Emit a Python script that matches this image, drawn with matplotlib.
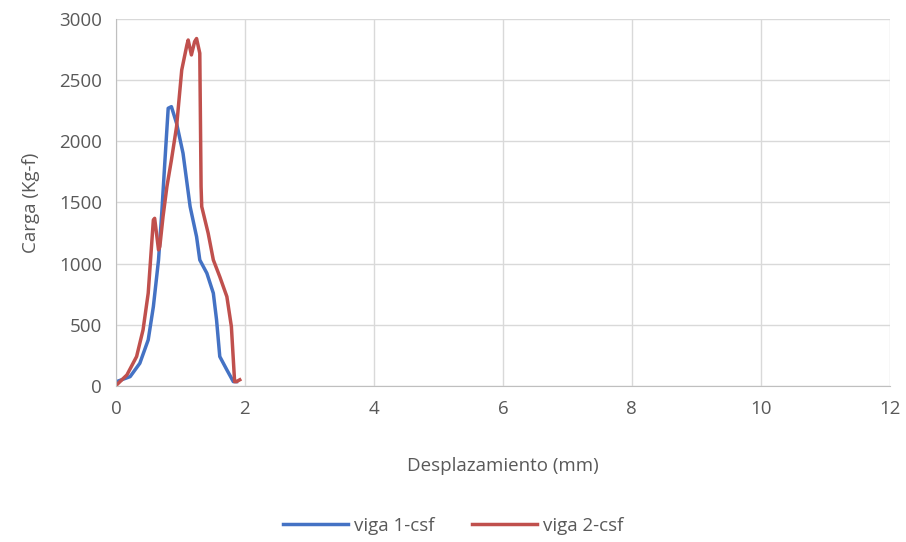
import matplotlib
matplotlib.use("Agg")
import matplotlib.pyplot as plt

plt.rcParams['font.family'] = ['Open Sans', 'DejaVu Sans']

x1 = [0.01, 0.22, 0.37, 0.50, 0.58, 0.66, 0.71, 0.76, 0.81, 0.86, 0.94, 1.04, 1.15,
      1.25, 1.30, 1.41, 1.51, 1.56, 1.61, 1.72, 1.82, 1.87]
y1 = [35, 76, 185, 376, 648, 1030, 1412, 1847, 2270, 2283, 2147, 1902, 1466,
      1220, 1030, 921, 758, 540, 240, 131, 35, 35]

x2 = [0.01, 0.17, 0.32, 0.42, 0.50, 0.58, 0.60, 0.66, 0.68, 0.73, 0.79, 0.86, 0.94,
      1.02, 1.10, 1.12, 1.17, 1.22, 1.25, 1.30, 1.32, 1.33, 1.43, 1.51, 1.61, 1.72,
      1.79, 1.84, 1.87, 1.92]
y2 = [8, 90, 240, 458, 758, 1357, 1370, 1112, 1139, 1384, 1629, 1847, 2120,
      2583, 2787, 2828, 2706, 2815, 2840, 2720, 1629, 1466, 1248, 1030, 893, 730,
      485, 35, 35, 50]

labels = ['viga 1-csf', 'viga 2-csf']
xticks = [0, 2, 4, 6, 8, 10, 12]
yticks = [0, 500, 1000, 1500, 2000, 2500, 3000]

fig = plt.figure(figsize=(9.06, 5.42), dpi=100)
ax = fig.add_axes([0.128, 0.288, 0.854, 0.677])
ax.plot(x1, y1, color='#4472C4', lw=2.5, label=labels[0])
ax.plot(x2, y2, color='#C0504D', lw=2.5, label=labels[1])
ax.set_xlim(0, 12)
ax.set_ylim(0, 3000)
ax.set_xticks(xticks)
ax.set_yticks(yticks)
ax.grid(True, color='#D9D9D9', lw=1)
ax.set_axisbelow(True)
for s in ['top', 'right']:
    ax.spines[s].set_visible(False)
for s in ['left', 'bottom']:
    ax.spines[s].set_color('#BFBFBF')
ax.tick_params(length=0, colors='#595959', labelsize=13.5, pad=10)
ax.set_xlabel('Desplazamiento (mm)', color='#595959', fontsize=13.5, labelpad=28)
ax.set_ylabel('Carga (Kg-f)', color='#595959', fontsize=13.5, labelpad=14)
fig.legend(loc='lower center', bbox_to_anchor=(0.5, -0.018), ncol=2, frameon=False,
           fontsize=13.5, labelcolor='#595959', handlelength=3.5, columnspacing=2.0,
           handletextpad=0.3)
fig.savefig('out.png', dpi=100)
